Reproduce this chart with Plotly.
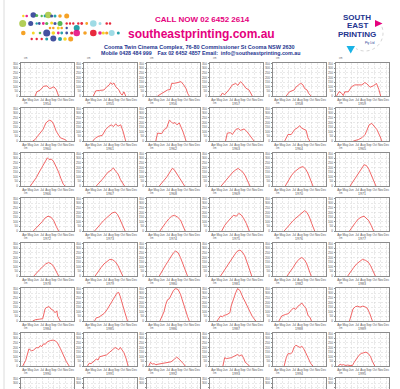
import numpy as np
import plotly.graph_objects as go

W, H = 400, 389

# ---------------- data ----------------
months = ["Apr", "May", "Jun", "Jul", "Aug", "Sep", "Oct", "Nov", "Dec"]
month_pos = [4, 5, 6, 7, 8, 9, 10, 11, 12]
depth_ticks = [0, 50, 100, 150, 200, 250, 300, 350]
years = list(range(1954, 2002))

m1954 = [5.8, 6.1, 6.7, 7.25, 7.8, 8.3, 8.7, 9.0, 9.4, 9.8]
d1954 = [0, 45, 65, 105, 110, 80, 90, 100, 70, 0]
m1955 = [5.0, 5.4, 6.0, 6.8, 7.3, 7.7, 7.95, 8.2, 8.5, 8.8, 9.3, 9.6, 9.9, 10.2, 10.5]
d1955 = [0, 55, 60, 65, 100, 120, 145, 125, 140, 100, 70, 30, 10, 45, 0]
m1956 = [5.2, 5.8, 6.35, 6.9, 7.35, 7.6, 8.3, 8.9, 9.2, 9.65, 10.05, 10.35, 10.6]
d1956 = [0, 25, 45, 65, 70, 135, 140, 145, 155, 120, 80, 25, 0]
m1957 = [5.2, 5.5, 5.9, 6.35, 6.6, 7.2, 7.8, 8.15, 8.6, 9.0, 9.5, 10.05, 10.6]
d1957 = [0, 30, 15, 45, 65, 120, 135, 115, 155, 130, 85, 65, 0]
m1958 = [5.65, 6.2, 7.0, 7.35, 7.8, 8.1, 8.5, 8.8, 9.2, 9.5, 9.9]
d1958 = [0, 45, 65, 100, 120, 140, 120, 80, 65, 25, 0]
m1959 = [3.5, 3.95, 4.35, 4.65, 4.9, 5.5, 6.05, 6.6, 7.8, 8.3, 8.6, 9.2, 9.75, 10.3, 10.7, 11.0]
d1959 = [0, 48, 30, 5, 45, 45, 100, 120, 120, 145, 135, 95, 110, 135, 70, 0]

m1960 = [5.4, 5.8, 6.2, 6.7, 7.15, 7.4, 7.65, 8.0, 8.3, 8.7, 9.0, 9.4, 10.1, 10.9, 11.2]
d1960 = [0, 15, 50, 85, 125, 160, 195, 215, 225, 210, 175, 105, 35, 15, 0]
m1961 = [4.9, 5.4, 5.95, 6.5, 7.1, 7.65, 8.1, 8.4, 8.8, 9.2, 9.65, 10.05, 10.5]
d1961 = [0, 35, 53, 60, 125, 160, 175, 155, 185, 160, 175, 105, 0]
m1962 = [4.9, 5.2, 5.9, 6.35, 6.75, 7.2, 7.5, 7.8, 8.15, 8.5, 8.9, 9.2, 9.5, 9.8, 10.05]
d1962 = [0, 85, 80, 125, 140, 225, 210, 190, 200, 175, 195, 155, 105, 50, 0]
m1963 = [6.05, 6.35, 6.9, 7.2, 7.8, 8.2, 8.6, 9.2, 9.65, 10.05, 10.35, 10.9]
d1963 = [0, 85, 90, 70, 125, 135, 115, 130, 105, 70, 35, 0]
m1964 = [5.4, 5.95, 6.5, 7.1, 7.5, 7.95, 8.25, 8.6, 9.05, 9.35, 9.65]
d1964 = [0, 70, 70, 125, 140, 165, 140, 125, 115, 35, 0]
m1965 = [6.35, 7.2, 7.8, 8.35, 8.6, 9.05, 9.5, 10.05, 10.35, 10.9, 11.2]
d1965 = [0, 15, 35, 70, 105, 175, 190, 155, 125, 50, 0]

m1966 = [5.0, 5.5, 6.0, 6.5, 7.0, 7.5, 7.9, 8.2, 8.6, 9.0, 9.4, 9.8, 10.2, 10.6, 10.9]
d1966 = [0, 40, 90, 150, 210, 270, 305, 285, 290, 260, 210, 150, 80, 20, 0]
m1967 = [5.5, 6.0, 6.5, 7.0, 7.5, 8.0, 8.4, 8.8, 9.2, 9.6, 10.0, 10.3]
d1967 = [0, 30, 70, 110, 150, 170, 195, 160, 130, 70, 20, 0]
m1968 = [5.5, 6.2, 6.8, 7.3, 7.7, 8.0, 8.4, 8.8, 9.3, 9.8]
d1968 = [0, 50, 100, 150, 190, 180, 140, 100, 50, 0]
m1969 = [5.3, 5.8, 6.3, 6.8, 7.3, 7.8, 8.2, 8.6, 9.0, 9.4, 9.8, 10.2]
d1969 = [0, 40, 80, 120, 150, 175, 190, 170, 150, 110, 50, 0]
m1970 = [5.5, 6.0, 6.5, 7.0, 7.5, 8.0, 8.5, 9.0, 9.4, 9.8, 10.2]
d1970 = [0, 60, 110, 150, 180, 200, 210, 180, 130, 60, 0]
m1971 = [5.8, 6.3, 6.8, 7.3, 7.8, 8.2, 8.6, 9.0, 9.4, 9.8, 10.2]
d1971 = [0, 50, 100, 150, 200, 230, 220, 180, 120, 50, 0]

m1972 = [5.5, 6.0, 6.5, 7.0, 7.5, 8.0, 8.5, 9.0, 9.4, 9.8]
d1972 = [0, 30, 60, 100, 140, 160, 150, 110, 50, 0]
m1973 = [5.2, 5.7, 6.2, 6.7, 7.2, 7.7, 8.2, 8.7, 9.1, 9.5, 10.0, 10.4]
d1973 = [0, 40, 70, 110, 140, 170, 195, 205, 180, 130, 60, 0]
m1974 = [5.6, 6.1, 6.6, 7.1, 7.6, 8.1, 8.6, 9.1, 9.5, 9.9]
d1974 = [0, 50, 90, 130, 160, 170, 150, 120, 60, 0]
m1975 = [5.4, 5.9, 6.4, 6.9, 7.4, 7.9, 8.3, 8.7, 9.1, 9.6, 10.1]
d1975 = [0, 60, 100, 140, 170, 160, 190, 175, 140, 80, 0]
m1976 = [5.3, 5.8, 6.3, 6.8, 7.3, 7.8, 8.3, 8.8, 9.2, 9.6, 10.0, 10.5]
d1976 = [0, 40, 80, 110, 140, 170, 200, 220, 200, 150, 80, 0]
m1977 = [5.7, 6.2, 6.7, 7.2, 7.7, 8.2, 8.6, 9.0, 9.4, 9.8]
d1977 = [0, 50, 90, 130, 150, 160, 140, 110, 60, 0]

m1978 = [5.6, 6.1, 6.6, 7.1, 7.6, 8.1, 8.6, 9.0, 9.4, 9.8]
d1978 = [0, 40, 70, 100, 130, 145, 130, 100, 50, 0]
m1979 = [5.3, 5.8, 6.3, 6.8, 7.3, 7.8, 8.3, 8.8, 9.2, 9.6, 10.0]
d1979 = [0, 50, 90, 130, 160, 180, 175, 150, 110, 50, 0]
m1980 = [5.5, 6.0, 6.5, 7.0, 7.5, 7.9, 8.3, 8.7, 9.1, 9.5, 9.9, 10.3]
d1980 = [0, 60, 110, 160, 210, 250, 270, 250, 200, 140, 60, 0]
m1981 = [5.2, 5.7, 6.2, 6.7, 7.2, 7.7, 8.1, 8.5, 8.9, 9.3, 9.7, 10.1, 10.5]
d1981 = [0, 50, 100, 150, 200, 240, 270, 280, 260, 220, 150, 70, 0]
m1982 = [5.8, 6.3, 6.8, 7.3, 7.8, 8.3, 8.7, 9.1, 9.5, 9.9]
d1982 = [0, 40, 90, 140, 180, 200, 180, 140, 70, 0]
m1983 = [5.4, 5.9, 6.4, 6.9, 7.4, 7.9, 8.4, 8.9, 9.3, 9.7, 10.1]
d1983 = [0, 50, 90, 130, 160, 180, 170, 150, 110, 50, 0]

m1984 = [5.4, 5.9, 6.6, 7.1, 7.5, 7.7, 8.2, 8.5, 8.9, 9.2, 9.5, 9.65, 10.1]
d1984 = [0, 15, 20, 25, 130, 145, 155, 130, 115, 90, 110, 50, 0]
m1985 = [5.2, 5.5, 5.9, 6.3, 6.8, 7.3, 7.8, 8.3, 8.7, 9.0, 9.3, 9.6, 10.0, 10.4, 10.8]
d1985 = [0, 35, 40, 55, 80, 120, 170, 220, 260, 300, 310, 260, 170, 90, 0]
m1986 = [5.6, 6.0, 6.3, 6.6, 6.9, 7.2, 7.5, 7.9, 8.3, 8.7, 9.1, 9.5, 9.9, 10.3, 10.6]
d1986 = [0, 70, 100, 180, 230, 240, 280, 330, 350, 340, 290, 220, 130, 50, 0]
m1987 = [4.6, 5.0, 5.2, 5.5, 5.8, 6.3, 6.8, 7.0, 7.4, 7.8, 8.1, 8.5, 8.9, 9.4, 10.0, 10.6, 11.2]
d1987 = [0, 35, 55, 45, 60, 70, 90, 160, 240, 310, 350, 330, 270, 210, 125, 50, 0]
m1988 = [4.4, 4.9, 5.5, 6.05, 6.6, 6.95, 7.25, 7.65, 8.1, 8.3, 8.7, 9.0, 9.4, 9.7, 9.95]
d1988 = [0, 55, 70, 80, 125, 140, 125, 160, 180, 195, 160, 140, 55, 40, 0]
m1989 = [5.7, 6.0, 6.3, 6.7, 7.1, 7.5, 7.9, 8.3, 8.7, 9.1, 9.4, 9.6]
d1989 = [0, 80, 130, 155, 160, 150, 160, 155, 140, 90, 30, 0]

m1990 = [3.7, 4.2, 4.75, 5.2, 5.5, 6.05, 6.35, 6.65, 6.95, 7.25, 7.55, 7.85, 8.4, 8.9, 9.3, 9.6, 10.1, 10.5, 11.1, 11.6]
d1990 = [0, 60, 185, 165, 170, 200, 195, 220, 210, 240, 235, 260, 275, 280, 270, 250, 190, 130, 50, 0]
m1991 = [4.0, 4.3, 4.6, 4.9, 5.2, 5.5, 5.8, 6.05, 6.65, 7.25, 7.8, 8.4, 8.7, 9.1, 9.3, 9.6, 10.2, 10.6, 10.9]
d1991 = [0, 30, 25, 40, 55, 75, 65, 100, 110, 120, 150, 185, 200, 185, 175, 200, 145, 75, 0]
m1992 = [3.7, 4.0, 4.3, 4.6, 4.9, 5.4, 5.8, 6.4, 6.9, 7.5, 8.1, 8.45, 8.7, 9.3, 9.6, 9.9]
d1992 = [0, 40, 20, 25, 15, 20, 25, 30, 35, 45, 75, 95, 85, 50, 25, 0]
m1993 = [5.6, 5.9, 6.2, 6.5, 7.05, 7.65, 8.1, 8.4, 8.8, 9.1, 9.4, 9.8, 10.1]
d1993 = [0, 90, 80, 85, 90, 110, 125, 110, 120, 90, 40, 20, 0]
m1994 = [5.3, 5.7, 6.0, 6.4, 6.7, 7.0, 7.3, 7.6, 8.0, 8.3, 8.6, 9.0, 9.4, 9.8, 10.2]
d1994 = [0, 100, 135, 130, 150, 205, 225, 210, 200, 215, 190, 140, 80, 30, 0]
m1995 = [3.8, 4.1, 4.4, 4.7, 5.0, 5.4, 5.8, 6.2, 6.5, 6.9, 7.3, 7.7, 8.1, 8.5, 8.9, 9.3, 9.6, 10.0]
d1995 = [0, 20, 10, 15, 5, 10, 5, 5, 40, 80, 115, 135, 145, 150, 135, 100, 50, 0]

series = {
    1954: (m1954, d1954), 1955: (m1955, d1955), 1956: (m1956, d1956), 1957: (m1957, d1957),
    1958: (m1958, d1958), 1959: (m1959, d1959), 1960: (m1960, d1960), 1961: (m1961, d1961),
    1962: (m1962, d1962), 1963: (m1963, d1963), 1964: (m1964, d1964), 1965: (m1965, d1965),
    1966: (m1966, d1966), 1967: (m1967, d1967), 1968: (m1968, d1968), 1969: (m1969, d1969),
    1970: (m1970, d1970), 1971: (m1971, d1971), 1972: (m1972, d1972), 1973: (m1973, d1973),
    1974: (m1974, d1974), 1975: (m1975, d1975), 1976: (m1976, d1976), 1977: (m1977, d1977),
    1978: (m1978, d1978), 1979: (m1979, d1979), 1980: (m1980, d1980), 1981: (m1981, d1981),
    1982: (m1982, d1982), 1983: (m1983, d1983), 1984: (m1984, d1984), 1985: (m1985, d1985),
    1986: (m1986, d1986), 1987: (m1987, d1987), 1988: (m1988, d1988), 1989: (m1989, d1989),
    1990: (m1990, d1990), 1991: (m1991, d1991), 1992: (m1992, d1992), 1993: (m1993, d1993),
    1994: (m1994, d1994), 1995: (m1995, d1995),
}

# ---------------- styling / layout ----------------
RED = "#f04a4a"
GRID = "#d4d4d4"
FRAME = "#8c8c8c"
NAVY = "#23348f"
MAG = "#e5007d"
FONT = "Liberation Sans, Arial, sans-serif"
BOLD = "Liberation Sans, Arial, sans-serif"

col_left = [20.5, 83.5, 146.5, 209.5, 272.5, 335.5]
row_top0, row_step = 62.7, 45.0
box_w, box_h = 53.0, 33.3
YMAX = 360.0


def px(x):
    return x / W


def py(y):
    return 1 - y / H


fig = go.Figure()
layout = dict(width=W, height=H, margin=dict(l=0, r=0, t=0, b=0), autosize=False,
              paper_bgcolor="white", plot_bgcolor="white", showlegend=False,
              font=dict(family=FONT, color="#333"))
annotations = []
shapes = []

for idx, yr in enumerate(years):
    r, c = divmod(idx, 6)
    n = idx + 1
    sfx = "" if n == 1 else str(n)
    x0 = col_left[c]
    top = row_top0 + r * row_step
    bottom = top + box_h
    yr_lo = 0.0
    if bottom > H:
        yr_lo = YMAX * (bottom - H) / box_h
        bottom = H
    cut = yr_lo > 0
    xa = dict(domain=[px(x0), px(x0 + box_w)], anchor="y" + sfx, range=[3.32, 12.34],
              tickmode="array", tickvals=month_pos, ticktext=months, tickangle=0,
              tickfont=dict(size=3, color="#555"), ticks="", showgrid=True,
              gridcolor=GRID, griddash="2px,1.5px", gridwidth=0.5, zeroline=False,
              showline=True, mirror=not cut, linecolor=FRAME, linewidth=1,
              fixedrange=True, automargin=False)
    if cut:
        xa.update(side="top", showticklabels=False)
    else:
        xa.update(title=dict(text=str(yr), font=dict(size=3.5, color="#555"), standoff=0.5))
    ya = dict(domain=[py(bottom), py(top)], anchor="x" + sfx, range=[yr_lo, YMAX],
              tickmode="array", tickvals=depth_ticks, tickfont=dict(size=3, color="#555"),
              ticks="outside", ticklen=1, tickcolor=FRAME, showgrid=True,
              gridcolor=GRID, griddash="2px,1.5px", gridwidth=0.5, zeroline=False,
              showline=True, mirror=True, linecolor=FRAME, linewidth=1,
              fixedrange=True, automargin=False)
    layout["xaxis" + sfx] = xa
    layout["yaxis" + sfx] = ya
    annotations.append(dict(text="cm", x=px(x0 + 1), y=py(top - 0.8), xref="paper", yref="paper",
                            xanchor="left", yanchor="bottom", showarrow=False,
                            font=dict(size=2.6, color="#666")))
    m, d = series.get(yr, ([], []))
    fig.add_trace(go.Scatter(x=m, y=d, xaxis="x" + sfx, yaxis="y" + sfx, mode="lines",
                             line=dict(color=RED, width=0.85), hoverinfo="skip"))

# ---------------- header ----------------
def txt(s, x, y, size, color, family=BOLD, anchor="center"):
    annotations.append(dict(text=s, x=px(x), y=py(y), xref="paper", yref="paper",
                            xanchor=anchor, yanchor="middle", showarrow=False,
                            font=dict(size=size, color=color, family=family)))

txt("<b>CALL NOW 02 6452 2614</b>", 202, 20, 8, MAG)
txt("<b>southeastprinting.com.au</b>", 201.5, 33.5, 12, MAG)
txt("<b>Cooma Twin Cinema Complex, 76-80 Commissioner St Cooma NSW 2630</b>", 199.5, 46.7, 5.5, NAVY)
txt("<b>Mobile 0428 484 999    Fax 02 6452 4857 Email:  info@southeastprinting.com.au</b>", 200, 52.8, 5.3, NAVY)

txt("<b>SOUTH</b>", 357, 17.5, 8, NAVY)
txt("<b>EAST</b>", 357, 26, 8, NAVY)
txt("<b>PRINTING</b>", 356.5, 34.5, 8, NAVY)
txt("Pty Ltd", 369.5, 42.5, 3, NAVY, FONT)

def tri(pts, color):
    p = "M " + " L ".join(f"{px(a)},{py(b)}" for a, b in pts) + " Z"
    shapes.append(dict(type="path", path=p, xref="paper", yref="paper",
                       fillcolor=color, line=dict(width=0)))

tri([(375, 20), (382.5, 23.5), (375, 27)], MAG)
tri([(346.5, 46), (355, 46), (350.7, 53.5)], "#19b3e6")

ang = np.linspace(-0.35, 2.1, 40)
arc = [(365 + 18 * np.cos(a), 33 + 18 * np.sin(a)) for a in ang]
shapes.append(dict(type="path", xref="paper", yref="paper",
                   path="M " + " L ".join(f"{px(a)},{py(b)}" for a, b in arc),
                   line=dict(color="#c8c8c8", width=0.8, dash="dot")))

# decorative dot logo
YEL, GRN, TEAL, LGRN, ORG, RD, LBL = "#f4d000", "#3aa935", "#00909a", "#a5c63b", "#f39200", "#e3051b", "#8ed5e0"
dots = [
    (23.3, 16, 1.2, YEL), (26.7, 16, 1.3, MAG), (33.3, 15, 2.8, NAVY), (36.7, 15.5, 1.5, GRN),
    (41.7, 16, 1.2, GRN), (45, 16, 1.4, TEAL), (48.3, 15, 3.3, LGRN), (51.7, 16, 1.5, NAVY),
    (55, 16, 1.5, TEAL), (60, 16, 1.8, ORG), (66.7, 16, 2.5, ORG),
    (22.7, 23.5, 3.5, LGRN), (30.7, 23.5, 2.5, NAVY), (36.7, 23.5, 1.2, TEAL), (39.3, 23.5, 1.4, NAVY),
    (43.3, 23.5, 1.4, MAG), (46.7, 23.5, 1.6, GRN), (51.7, 23, 1.6, YEL), (55, 23.5, 1.6, NAVY),
    (60, 23.5, 2.5, GRN), (66.7, 23.5, 1.2, RD), (70, 23.5, 1.2, RD), (73.3, 23.5, 1.2, RD),
    (78.3, 23.5, 1.2, RD), (81.7, 23.5, 1.4, RD), (86.7, 23.5, 1.4, ORG), (93.3, 23.5, 3.3, LBL),
    (100, 23.5, 1.5, LBL), (106.7, 23.5, 1.3, RD), (110, 23.5, 1.3, RD),
    (50, 28, 1.3, ORG), (53.3, 28, 1.3, ORG), (58.3, 28, 1.5, YEL), (61.7, 28, 1.3, ORG),
    (66.7, 28, 1.2, NAVY), (76.7, 28, 3, TEAL),
    (23.3, 33, 2.3, ORG), (33.3, 33, 1.5, YEL), (40, 33, 1.3, GRN), (46.7, 33, 3.5, NAVY),
    (53.3, 33, 1.8, YEL), (58.3, 33, 1.4, MAG), (61.7, 33, 1.4, TEAL), (66.7, 33, 1.4, NAVY),
    (71.7, 33, 1.6, RD), (76.7, 33, 3.3, MAG), (85, 33, 1.8, ORG), (93.3, 33, 3.3, RD),
    (100, 33, 1.8, MAG), (103.3, 33, 1.6, YEL), (106.7, 33, 1.6, ORG), (111.7, 33, 3, LBL),
    (118.3, 33, 1.5, TEAL),
    (31.7, 39, 1.2, RD), (36.7, 39, 1.2, RD), (41.7, 39, 1.2, RD), (46.7, 39, 1.5, TEAL),
    (53.3, 38.5, 3, NAVY), (60, 39, 2, TEAL), (65, 39, 1.8, YEL), (70.7, 39, 2.5, ORG),
]
for (cx, cy, rr, col) in dots:
    shapes.append(dict(type="circle", xref="paper", yref="paper",
                       x0=px(cx - rr), x1=px(cx + rr), y0=py(cy + rr), y1=py(cy - rr),
                       fillcolor=col, opacity=0.85, line=dict(width=0)))

# faint left page edge
shapes.append(dict(type="line", xref="paper", yref="paper", x0=px(4), x1=px(4), y0=0, y1=1,
                   line=dict(color="#dcdcdc", width=1)))

layout["annotations"] = annotations
layout["shapes"] = shapes
fig.update_layout(**layout)
fig.write_html("out.html", config={"displayModeBar": False, "staticPlot": True},
               post_script="document.body.style.margin='0';document.body.style.padding='0';"
                           "document.body.style.overflow='hidden';")
